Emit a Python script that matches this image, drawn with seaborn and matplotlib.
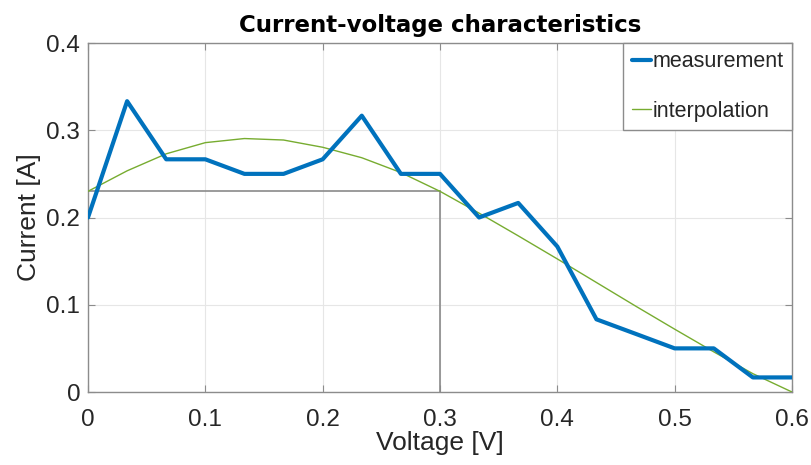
import numpy as np
import pandas as pd
import matplotlib
matplotlib.use("Agg")
import matplotlib.pyplot as plt
import seaborn as sns

# Measured current-voltage samples
voltage = [0.0, 1/30, 2/30, 3/30, 4/30, 5/30, 6/30, 7/30, 8/30, 9/30, 10/30,
           11/30, 12/30, 13/30, 14/30, 15/30, 16/30, 17/30, 18/30]
current_meas = [0.2, 0.3333, 0.2667, 0.2667, 0.25, 0.25, 0.2667, 0.3167, 0.25, 0.25, 0.2,
                0.2167, 0.1667, 0.0833, 0.0667, 0.05, 0.05, 0.0167, 0.0167]

# Interpolated curve sampled on the same voltage grid
current_interp = [0.2300, 0.2535, 0.2730, 0.2858, 0.2905, 0.2888, 0.2805, 0.2685, 0.2515, 0.2300, 0.2050,
                  0.1790, 0.1525, 0.1255, 0.0985, 0.0720, 0.0460, 0.0210, 0.0]

# Operating point marked by guide lines
op_voltage = 0.3
op_current = 0.23

x_ticks = [0, 0.1, 0.2, 0.3, 0.4, 0.5, 0.6]
x_tick_labels = ["0", "0.1", "0.2", "0.3", "0.4", "0.5", "0.6"]
y_ticks = [0, 0.1, 0.2, 0.3, 0.4]
y_tick_labels = ["0", "0.1", "0.2", "0.3", "0.4"]

sns.set_theme(style="white")
plt.rcParams["font.family"] = ["Liberation Sans", "DejaVu Sans"]

df_meas = pd.DataFrame({"Voltage": voltage, "Current": current_meas})
df_interp = pd.DataFrame({"Voltage": voltage, "Current": current_interp})

fig = plt.figure(figsize=(8.12, 4.65), dpi=100)
ax = fig.add_axes([88/812, 1 - 392/465, (792 - 88)/812, (392 - 43)/465])

# Guide lines to the operating point
ax.plot([0, op_voltage], [op_current, op_current], color="#8a8a8a", lw=1.2, zorder=2)
ax.plot([op_voltage, op_voltage], [0, op_current], color="#8a8a8a", lw=1.2, zorder=2)

sns.lineplot(data=df_meas, x="Voltage", y="Current", ax=ax, color="#0072BD",
             linewidth=3.0, label="measurement", sort=False, zorder=4)
sns.lineplot(data=df_interp, x="Voltage", y="Current", ax=ax, color="#77AC30",
             linewidth=1.0, label="interpolation", sort=False, zorder=3)

ax.set_xlim(0, 0.6)
ax.set_ylim(0, 0.4)
ax.set_xticks(x_ticks)
ax.set_xticklabels(x_tick_labels)
ax.set_yticks(y_ticks)
ax.set_yticklabels(y_tick_labels)

ax.grid(True, color="#e6e6e6", linewidth=0.8)
ax.set_axisbelow(True)
for sp in ax.spines.values():
    sp.set_color("#8c8c8c")
    sp.set_linewidth(1.0)
    sp.set_visible(True)

ax.tick_params(axis="both", which="both", direction="in", length=5, width=0.8,
               color="#8c8c8c", labelsize=17.5, labelcolor="#262626",
               top=True, right=True, bottom=True, left=True)
ax.tick_params(axis="x", pad=12)
ax.tick_params(axis="y", pad=5.5)

ax.set_xlabel("Voltage [V]", fontsize=19, color="#262626", labelpad=0.5)
ax.set_ylabel("Current [A]", fontsize=19, color="#262626", labelpad=4)
ax.set_title("Current-voltage characteristics", fontsize=16.5, fontweight="bold",
             family="DejaVu Sans", color="black", pad=8)

leg = ax.legend(loc="upper right", fontsize=15.5, frameon=True, fancybox=False,
                borderaxespad=0, handlelength=0.88, handletextpad=0.1,
                labelspacing=1.34, borderpad=0.38)
leg.get_frame().set_edgecolor("#8c8c8c")
leg.get_frame().set_linewidth(1.0)
leg.get_frame().set_facecolor("white")
leg.get_frame().set_alpha(1.0)

fig.savefig("out.png", dpi=100)
